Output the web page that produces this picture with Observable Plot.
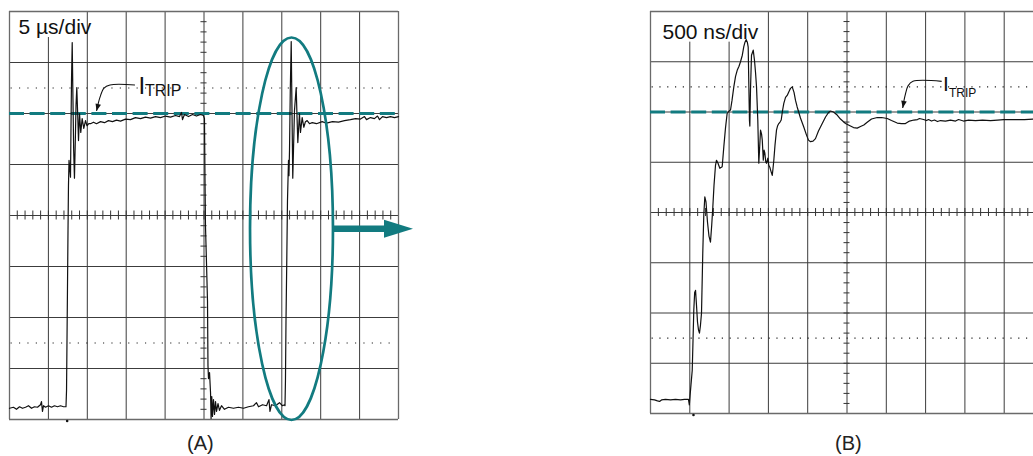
<!DOCTYPE html>
<html><head><meta charset="utf-8">
<script src="https://cdn.jsdelivr.net/npm/d3@7"></script>
<script src="https://cdn.jsdelivr.net/npm/@observablehq/plot@0.6"></script>
<style>
html,body{margin:0;padding:0;background:#fff;overflow:hidden;}
#wrap{position:relative;width:1033px;height:456px;font-family:"Liberation Sans",Arial,sans-serif;background:#fff;}
.panel{position:absolute;top:0;}
.cap{position:absolute;top:433px;font-size:20px;line-height:20px;color:#222;}
</style></head><body>
<div id="wrap">
  <div class="panel" id="pa" style="left:0px"></div>
  <div class="panel" id="pb" style="left:630px"></div>
  <div class="cap" style="left:187px">(A)</div>
  <div class="cap" style="left:835px">(B)</div>
</div>
<script>
// ---------- DATA ----------
// Panel A: time in µs (5 µs/div), current in divisions
const tA = [
  0,0.51,0.90,1.29,1.67,2.06,2.44,2.83,3.21,3.60,3.98,4.11,4.24,4.37,4.63,5.01,5.40,5.78,6.17,6.56,6.94,7.26,
  7.33,7.39,7.45,7.52,7.58,7.65,7.75,7.84,7.90,7.97,8.06,8.16,8.25,8.35,8.46,8.55,8.65,8.77,8.87,9.00,9.16,9.34,9.55,9.77,9.96,10.19,
  10.41,10.80,11.18,11.70,12.21,12.72,13.24,13.75,14.27,14.91,15.55,16.19,16.84,17.48,18.12,18.77,19.41,20.05,20.69,21.34,21.85,22.11,22.24,22.49,23.01,23.52,24.03,24.55,24.93,
  25.06,25.13,25.19,25.32,25.45,25.51,25.58,25.71,25.84,25.91,26.00,26.09,26.22,26.35,26.48,26.61,26.80,26.99,27.25,27.63,28.14,28.79,29.43,30.08,30.72,31.36,31.75,32.01,32.52,33.04,33.35,33.48,33.68,34.19,34.70,35.09,35.35,
  35.41,35.47,35.54,35.64,35.73,35.86,35.92,35.99,36.09,36.21,36.31,36.41,36.50,36.63,36.85,36.95,37.06,37.27,37.40,37.62,37.83,38.04,38.26,38.56,38.91,39.46,40.19,
  40.74,41.52,42.29,43.06,43.83,44.47,45.11,45.63,45.89,46.40,46.91,47.30,47.56,47.94,48.46,48.97,49.49,50.0
];
const iA = [
  -3.78,-3.76,-3.80,-3.75,-3.78,-3.76,-3.73,-3.78,-3.75,-3.76,-3.71,-3.65,-3.84,-3.73,-3.76,-3.73,-3.76,-3.73,-3.75,-3.73,-3.75,-3.75,
  -3.43,-2.45,-1.47,-0.29,0.59,1.08,0.92,0.75,1.67,2.65,3.39,2.25,1.27,0.73,1.47,2.16,2.51,1.96,1.47,2.00,1.63,1.90,1.71,1.86,1.76,1.80,
  1.80,1.83,1.80,1.84,1.82,1.86,1.84,1.87,1.85,1.89,1.88,1.92,1.90,1.93,1.91,1.94,1.92,1.95,1.93,1.96,1.94,2.02,1.88,1.98,1.94,1.98,1.95,1.98,1.96,
  1.90,0.69,-0.20,-0.92,-1.67,-2.94,-3.20,-3.08,-3.47,-3.98,-3.55,-3.94,-3.61,-3.90,-3.65,-3.84,-3.69,-3.82,-3.73,-3.80,-3.76,-3.78,-3.76,-3.78,-3.75,-3.73,-3.67,-3.75,-3.71,-3.73,-3.61,-3.84,-3.71,-3.73,-3.67,-3.73,-3.71,
  -3.73,-3.24,-2.06,-0.88,0.29,1.08,0.78,1.27,2.45,3.41,2.06,0.73,1.27,2.06,2.51,1.96,1.43,2.00,1.63,1.92,1.73,1.84,1.86,1.80,1.82,1.80,1.84,
  1.81,1.84,1.83,1.86,1.88,1.90,1.89,1.94,1.88,1.92,1.90,1.95,1.88,1.94,1.92,1.94,1.92,1.94
];
// Panel B: time in ns (500 ns/div), current in divisions
const tB = [
  0,51,89,115,140,191,254,318,382,433,
  483,494,503,515,531,541,551,562,573,585,
  598,611,623,636,649,665,678,691,706,725,
  744,763,779,793,808,827,840,859,882,912,
  933,954,975,999,1018,1037,1060,1082,1103,1126,
  1145,1168,1187,1202,1218,1232,1243,1250,1259,1264,
  1272,1285,1307,1323,1336,1349,1365,1378,1387,1400,
  1413,1422,1435,1445,1455,1467,1476,1493,1505,1518,
  1533,1549,1559,1569,1584,1603,1616,1632,1648,1663,
  1679,1696,1718,1739,1762,1781,1803,1826,1845,1866,
  1889,1908,1950,1985,2010,2036,2068,2099,2137,2185,
  2227,2265,2290,2328,2375,2417,2481,2544,2583,2630,
  2672,2714,2761,2812,2884,2939,3012,3066,3139,3193,
  3244,3295,3350,3397,3422,3473,3512,3537,3575,3613,
  3651,3690,3753,3817,3881,3919,3982,4046,4135,4224,
  4326,4415,4491,4580,4669,4758,4873,5000
];
const iB = [
  -3.72,-3.73,-3.75,-3.76,-3.73,-3.72,-3.73,-3.72,-3.73,-3.72,
  -3.72,-3.83,-3.65,-3.43,-3.14,-2.54,-1.94,-1.59,-1.55,-1.84,
  -2.18,-2.34,-2.40,-2.24,-2.00,-0.81,-0.05,0.31,0.21,-0.19,
  -0.47,-0.59,-0.25,0.11,0.54,0.94,1.04,0.98,0.88,0.91,
  1.31,1.68,1.97,2.02,2.04,2.23,2.50,2.71,2.83,2.91,
  3.00,3.13,3.30,3.39,3.44,3.39,3.29,2.63,1.83,1.72,
  2.43,3.13,3.23,3.03,2.79,2.50,1.84,0.98,1.24,1.64,
  1.56,1.44,1.04,1.24,1.18,1.00,0.98,1.08,0.94,0.90,
  0.82,0.74,0.88,1.04,1.34,1.64,1.72,1.77,1.80,1.84,
  2.02,2.17,2.29,2.33,2.41,2.47,2.50,2.39,2.23,2.10,
  1.98,1.88,1.70,1.54,1.44,1.41,1.42,1.47,1.62,1.77,
  1.90,1.99,2.02,2.00,1.94,1.86,1.77,1.72,1.69,1.68,
  1.71,1.74,1.80,1.86,1.89,1.89,1.87,1.83,1.78,1.77,
  1.77,1.82,1.84,1.85,1.87,1.85,1.83,1.85,1.82,1.84,
  1.81,1.83,1.82,1.84,1.82,1.85,1.82,1.84,1.83,1.84,
  1.83,1.84,1.85,1.85,1.85,1.85,1.86,1.86
];
const iTrip = 2.0;                                   // trip level (div)
const gridTA = [0,5,10,15,20,25,30,35,40,45,50];    // µs
const gridTB = [0,500,1000,1500,2000,2500,3000,3500,4000,4500,5000]; // ns
const gridDiv = [-4,-3,-2,-1,0,1,2,3,4];
const dottedDiv = [2.5,-2.5];
const scaleLabelA = "5 µs/div";
const scaleLabelB = "500 ns/div";

// ---------- HELPERS ----------
const teal = "#127b80";
const gridColor = "#3c3c3c";
const frameColor = "#6a6a6a";
const zip = (t, v) => t.slice(0, Math.min(t.length, v.length)).map((d, k) => ({t: d, i: v[k]}));
const traceA = zip(tA, iA);
const traceB = zip(tB, iB);

function overlay(draw) {
  return function(...args) {
    const s = args.find(a => a && typeof a.x === "function" && typeof a.y === "function");
    const g = d3.create("svg:g");
    draw(g, s.x, s.y);
    return g.node();
  };
}
function leader(pts) {
  return overlay((g, x, y) => {
    const P = pts.map(([a, b]) => [x(a), y(b)]);
    g.append("path").attr("d", d3.line().curve(d3.curveCatmullRom)(P))
      .attr("fill", "none").attr("stroke", "#111").attr("stroke-width", 1.1);
    const [tx, ty] = P[P.length - 1], [px, py] = P[P.length - 2];
    const ang = Math.atan2(ty - py, tx - px), L = 7, W = 2.8;
    const bx = tx - L * Math.cos(ang), by = ty - L * Math.sin(ang);
    const nx = -Math.sin(ang) * W, ny = Math.cos(ang) * W;
    g.append("path").attr("d", `M${tx},${ty}L${bx + nx},${by + ny}L${bx - nx},${by - ny}Z`).attr("fill", "#111");
  });
}
function minorTicks(centerX, halfX, halfY, step, domainX) {
  const ys = d3.range(-4, 4.0001, 0.2);
  const xs = d3.range(domainX[0], domainX[1] + 1e-6, step);
  return [
    Plot.ruleY(ys, {y: d => d, x1: centerX - halfX, x2: centerX + halfX, stroke: "#333", strokeWidth: 1}),
    Plot.ruleX(xs, {x: d => d, y1: -halfY, y2: halfY, stroke: "#333", strokeWidth: 1})
  ];
}
function itripLabel(x, yI, xT, yT, fsI, fsT) {
  return [
    Plot.text(["I"], {x, y: yI, text: d => d, textAnchor: "start", lineAnchor: "bottom", fontSize: fsI, fill: "#111"}),
    Plot.text(["TRIP"], {x: xT, y: yT, text: d => d, textAnchor: "start", lineAnchor: "bottom", fontSize: fsT, fill: "#111"})
  ];
}

// ---------- PANEL A ----------
const ellipseAndArrow = overlay((g, x, y) => {
  const cx = 36.31, cy = -0.27, rx = 5.33, ry = 3.75;
  g.append("ellipse").attr("cx", x(cx)).attr("cy", y(cy))
    .attr("rx", x(cx + rx) - x(cx)).attr("ry", y(cy - ry) - y(cy))
    .attr("fill", "none").attr("stroke", teal).attr("stroke-width", 2.7);
  const y0 = y(cy), xs = x(41.64), xb = x(48.2), xt = x(51.93);
  g.append("line").attr("x1", xs).attr("x2", xb + 2).attr("y1", y0).attr("y2", y0)
    .attr("stroke", teal).attr("stroke-width", 6.5);
  g.append("path").attr("d", `M${xb},${y0 - 9}L${xt},${y0}L${xb},${y0 + 9}Z`).attr("fill", teal);
});

const plotA = Plot.plot({
  width: 420, height: 424,
  marginLeft: 9, marginRight: 22, marginTop: 11, marginBottom: 5,
  x: {domain: [0, 50], range: [9, 398], axis: null},
  y: {domain: [-4, 4], range: [419, 11], axis: null},
  style: {background: "white", fontFamily: "'Liberation Sans', Arial, sans-serif", overflow: "visible"},
  marks: [
    Plot.ruleX(gridTA.slice(1, -1), {x: d => d, y1: -4, y2: 4, stroke: gridColor, strokeWidth: 1}),
    Plot.ruleY(gridDiv.slice(1, -1), {y: d => d, x1: 0, x2: 50, stroke: gridColor, strokeWidth: 1}),
    Plot.ruleY(dottedDiv, {y: d => d, x1: 0.2, x2: 49.6, stroke: "#222", strokeWidth: 1.1, strokeDasharray: "1.2,7.2"}),
    ...minorTicks(25, 0.39, 0.088, 1, [0, 50]),
    Plot.rect([0], {x1: 0.13, x2: 9.9, y1: 3.49, y2: 3.98, fill: "white"}),
    Plot.ruleX([0, 50], {x: d => d, y1: -4, y2: 4, stroke: frameColor, strokeWidth: 1.3}),
    Plot.ruleY([-4, 4], {y: d => d, x1: 0, x2: 50, stroke: frameColor, strokeWidth: 1.3}),
    Plot.ruleY([iTrip], {y: d => d, x1: 0, x2: 50, stroke: teal, strokeWidth: 3, strokeDasharray: "15,5.6"}),
    Plot.line(traceA, {x: "t", y: "i", stroke: "#111", strokeWidth: 1.2}),
    Plot.dot([0], {x: 7.41, y: -4, r: 1.3, fill: "#111", dy: 1.5}),
    ellipseAndArrow,
    leader([[16.19, 2.55], [12.98, 2.55], [12.21, 2.49], [11.70, 2.31], [11.25, 2.04]]),
    ...itripLabel(16.58, 2.38, 17.42, 2.35, 24, 16),
    Plot.text([scaleLabelA], {x: 0, y: 4, text: d => d, dx: 9, dy: 22, textAnchor: "start", lineAnchor: "bottom", fontSize: 21, fill: "#111"})
  ]
});
document.getElementById("pa").append(plotA);

// ---------- PANEL B ----------
const plotB = Plot.plot({
  width: 403, height: 424,
  marginLeft: 20, marginRight: 0, marginTop: 11, marginBottom: 11,
  x: {domain: [0, 5000], range: [20, 413], axis: null},
  y: {domain: [-4, 4], range: [413, 11], axis: null},
  style: {background: "white", fontFamily: "'Liberation Sans', Arial, sans-serif", overflow: "hidden"},
  marks: [
    Plot.ruleX(gridTB.slice(1, -1), {x: d => d, y1: -4, y2: 4, stroke: gridColor, strokeWidth: 1}),
    Plot.ruleY(gridDiv.slice(1, -1), {y: d => d, x1: 0, x2: 5000, stroke: gridColor, strokeWidth: 1}),
    Plot.ruleY(dottedDiv, {y: d => d, x1: 20, x2: 5000, stroke: "#222", strokeWidth: 1.1, strokeDasharray: "1.2,6.6"}),
    ...minorTicks(2500, 38, 0.08, 100, [0, 5000]),
    Plot.rect([0], {x1: 25, x2: 1463, y1: 3.39, y2: 3.98, fill: "white"}),
    Plot.ruleX([0, 5000], {x: d => d, y1: -4, y2: 4, stroke: frameColor, strokeWidth: 1.3}),
    Plot.ruleY([-4, 4], {y: d => d, x1: 0, x2: 5000, stroke: frameColor, strokeWidth: 1.3}),
    Plot.ruleY([iTrip], {y: d => d, x1: 0, x2: 5000, stroke: teal, strokeWidth: 3, strokeDasharray: "15,5.6"}),
    Plot.line(traceB, {x: "t", y: "i", stroke: "#111", strokeWidth: 1.2}),
    Plot.dot([0], {x: 547, y: -4, r: 1.3, fill: "#111", dy: 1.5}),
    leader([[3711, 2.60], [3346, 2.60], [3283, 2.51], [3244, 2.31], [3215, 2.07]]),
    ...itripLabel(3721, 2.42, 3798, 2.30, 21, 12),
    Plot.text([scaleLabelB], {x: 0, y: 4, text: d => d, dx: 12, dy: 27, textAnchor: "start", lineAnchor: "bottom", fontSize: 21, fill: "#111"})
  ]
});
document.getElementById("pb").append(plotB);
</script>
</body></html>
